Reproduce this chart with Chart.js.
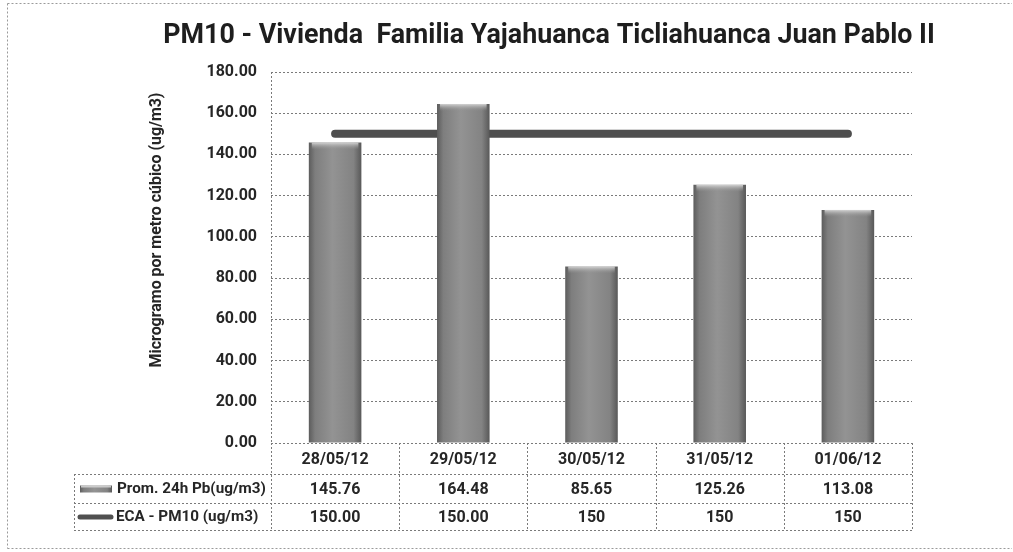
<!DOCTYPE html>
<html>
<head>
<meta charset="utf-8">
<script src="https://cdn.jsdelivr.net/npm/chart.js@4/dist/chart.umd.min.js"></script>
<style>
  html, body { margin: 0; padding: 0; background: #fff; }
  #wrap { width: 1013px; height: 552px; position: relative; }
</style>
</head>
<body>
<div id="wrap"><canvas id="pmChart" width="1013" height="552"></canvas></div>
<script>
// datos
const fechas = ['28/05/12', '29/05/12', '30/05/12', '31/05/12', '01/06/12'];
const promedio24h = [145.76, 164.48, 85.65, 125.26, 113.08];
const ecaPM10 = [150, 150, 150, 150, 150];
const promedioTxt = ['145.76', '164.48', '85.65', '125.26', '113.08'];
const ecaTxt = ['150.00', '150.00', '150', '150', '150'];
const serieNombres = ['Prom. 24h Pb(ug/m3)', 'ECA - PM10 (ug/m3)'];
const titulo = 'PM10 - Vivienda  Familia Yajahuanca Ticliahuanca Juan Pablo II';
const ejeY = 'Microgramo por metro cúbico (ug/m3)';

const FONT = 'Roboto, "Liberation Sans", sans-serif';
const TXT = '#262626';

function fitFont(ctx, text, width, size) {
    ctx.font = `bold ${size}px ${FONT}`;
    const w = ctx.measureText(text).width;
    const s = size * width / w;
    ctx.font = `bold ${s}px ${FONT}`;
}

function barGrad(ctx, x0, x1) {
    const g = ctx.createLinearGradient(x0, 0, x1, 0);
    g.addColorStop(0, '#5c5c5c');
    g.addColorStop(0.12, '#7e7e7e');
    g.addColorStop(0.45, '#939393');
    g.addColorStop(0.85, '#838383');
    g.addColorStop(1, '#585858');
    return g;
}

function dotted(ctx, x0, y0, x1, y1) {
    ctx.beginPath();
    ctx.moveTo(x0, y0);
    ctx.lineTo(x1, y1);
    ctx.stroke();
}

// tabla de datos, titulos y bordes
const tablaPlugin = {
    id: 'tabla',
    beforeDatasetsDraw(chart) {
        // degradado horizontal de cada barra
        chart.getDatasetMeta(0).data.forEach(b => {
            if (Number.isFinite(b.x) && Number.isFinite(b.width)) {
                b.options.backgroundColor = barGrad(chart.ctx, b.x - b.width / 2, b.x + b.width / 2);
            }
        });
    },
    afterDatasetDraw(chart, args) {
        if (args.index !== 0) return;
        // brillo superior de las barras
        const ctx = chart.ctx;
        chart.getDatasetMeta(0).data.forEach(b => {
            const w = b.width, x0 = b.x - w / 2;
            const g = ctx.createLinearGradient(0, b.y, 0, b.y + 7);
            g.addColorStop(0, 'rgba(215,215,215,0.95)');
            g.addColorStop(1, 'rgba(150,150,150,0)');
            ctx.fillStyle = g;
            ctx.fillRect(x0 + 3, b.y, w - 6, 7);
        });
    },
    afterDraw(chart) {
        const ctx = chart.ctx;
        const { left, right, top, bottom } = chart.chartArea;
        const xs = chart.scales.x;
        const step = (right - left) / fechas.length;
        const r1 = bottom + 31, r2 = bottom + 60, r3 = bottom + 87;
        const tl = 74;

        ctx.save();
        ctx.strokeStyle = '#7a7a7a';
        ctx.lineWidth = 1;
        ctx.setLineDash([2, 2]);
        // borde del area de trazado
        dotted(ctx, left + 0.5, top, left + 0.5, bottom);
        // tabla
        dotted(ctx, left, bottom + 0.5, right, bottom + 0.5);
        [r1, r2, r3].forEach(y => dotted(ctx, tl, y + 0.5, right, y + 0.5));
        dotted(ctx, tl + 0.5, r1, tl + 0.5, r3);
        for (let i = 0; i <= fechas.length; i++) {
            const x = Math.round(left + i * step) + 0.5;
            dotted(ctx, x, bottom, x, r3);
        }
        // marco exterior
        ctx.strokeStyle = '#9a9a9a';
        dotted(ctx, 7.5, 3.5, 1012, 3.5);
        dotted(ctx, 7.5, 3.5, 7.5, 548.5);
        dotted(ctx, 7.5, 548.5, 1012, 548.5);
        ctx.setLineDash([]);

        // textos de la tabla
        ctx.fillStyle = TXT;
        ctx.font = `bold 16px ${FONT}`;
        ctx.textAlign = 'center';
        ctx.textBaseline = 'middle';
        fechas.forEach((f, i) => {
            const cx = xs.getPixelForValue(i);
            ctx.fillText(f, cx, (bottom + r1) / 2 + 1);
            ctx.fillText(promedioTxt[i], cx, (r1 + r2) / 2 + 1);
            ctx.fillText(ecaTxt[i], cx, (r2 + r3) / 2 + 1);
        });
        ctx.textAlign = 'left';
        fitFont(ctx, serieNombres[0], 149, 15);
        ctx.fillText(serieNombres[0], 117, (r1 + r2) / 2 + 1);
        ctx.fillText(serieNombres[1], 116, (r2 + r3) / 2 + 1);

        // leyenda
        ctx.fillStyle = barGrad(ctx, 80, 112);
        ctx.fillRect(80, (r1 + r2) / 2 - 3, 32, 7);
        ctx.fillStyle = 'rgba(210,210,210,0.9)';
        ctx.fillRect(81, (r1 + r2) / 2 - 3, 30, 2);
        ctx.strokeStyle = '#505050';
        ctx.lineWidth = 5;
        ctx.lineCap = 'round';
        dotted(ctx, 80, (r2 + r3) / 2 + 0.5, 111, (r2 + r3) / 2 + 0.5);

        // titulo
        ctx.fillStyle = '#1e1e1e';
        ctx.textAlign = 'center';
        fitFont(ctx, titulo, 772, 26);
        ctx.fillText(titulo, 549, 36);

        // titulo eje y
        ctx.translate(157, 230);
        ctx.rotate(-Math.PI / 2);
        ctx.fillStyle = TXT;
        fitFont(ctx, ejeY, 275, 15);
        ctx.fillText(ejeY, 0, 0);
        ctx.restore();
    }
};

new Chart(document.getElementById('pmChart'), {
    data: {
        labels: fechas,
        datasets: [
            {
                type: 'bar',
                label: serieNombres[0],
                data: promedio24h,
                order: 1,
                barPercentage: 0.41,
                categoryPercentage: 1,
                borderWidth: 0,
                // funcion para que cada barra tenga sus propias opciones
                backgroundColor: () => '#888888'
            },
            {
                type: 'line',
                label: serieNombres[1],
                data: ecaPM10,
                order: 2,
                borderColor: '#4e4e4e',
                borderWidth: 8,
                borderCapStyle: 'round',
                pointRadius: 0,
                fill: false
            }
        ]
    },
    options: {
        responsive: false,
        animation: false,
        layout: { padding: { left: 0, right: 101, top: 72, bottom: 109 } },
        plugins: { legend: { display: false }, tooltip: { enabled: false } },
        scales: {
            x: { display: false, offset: true },
            y: {
                min: 0,
                max: 180,
                afterFit: (s) => { s.width = 271; },
                ticks: {
                    stepSize: 20,
                    padding: 14,
                    color: TXT,
                    font: { family: FONT, size: 16, weight: 'bold' },
                    callback: (v) => v.toFixed(2)
                },
                grid: { color: '#7a7a7a', lineWidth: 1, drawTicks: false },
                border: { display: false, dash: [2, 2] }
            }
        }
    },
    plugins: [tablaPlugin]
});
</script>
</body>
</html>
